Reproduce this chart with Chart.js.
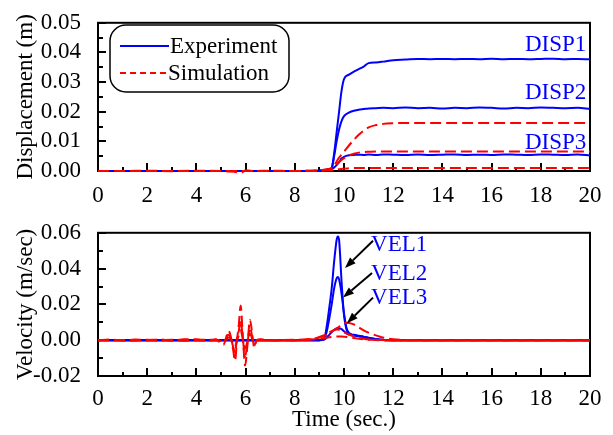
<!DOCTYPE html>
<html>
<head>
<meta charset="utf-8">
<script src="https://cdn.jsdelivr.net/npm/chart.js@4"></script>
<style>
  html, body { margin: 0; padding: 0; background: #fff; }
  #wrap { position: relative; width: 613px; height: 435px; }
  canvas { position: absolute; left: 0; }
</style>
</head>
<body>
<div id="wrap">
  <canvas id="dispChart" width="613" height="210" style="top:0"></canvas>
  <canvas id="velChart" width="613" height="225" style="top:210px"></canvas>
</div>
<script>
// --- displacement (m) vs time (sec.)
const dispTime = [
  0, 1, 2, 3, 4, 5, 5.5, 5.8, 6, 6.3,
  7, 8, 8.5, 9, 9.2, 9.4, 9.5, 9.6, 9.7, 9.8,
  9.9, 10, 10.2, 10.4, 10.6, 10.8, 11, 11.3, 11.6, 12,
  12.5, 13, 13.5, 14, 14.5, 15, 15.5, 16, 16.5, 17,
  17.5, 18, 18.5, 19, 19.5, 20
];
const disp1Exp = [
  0, 0, 0, 0, 0, 0, 0, 0, 0, 0,
  0, 0, 0, 0.0001, 0.0003, 0.0006, 0.001, 0.006, 0.013, 0.020,
  0.027, 0.031, 0.0325, 0.0335, 0.0344, 0.0352, 0.0364, 0.0366, 0.0369, 0.0374,
  0.0376, 0.0378, 0.0377, 0.0378, 0.0377, 0.0378, 0.0377, 0.0379, 0.0377, 0.0378,
  0.0377, 0.0378, 0.0379, 0.0377, 0.0378, 0.0377
];
const disp2Exp = [
  0, 0, 0, 0, 0, 0, 0, 0, 0, 0,
  0, 0, 0, 0.0001, 0.0002, 0.0005, 0.001, 0.005, 0.010, 0.014,
  0.0168, 0.0185, 0.0197, 0.0203, 0.0207, 0.0209, 0.0211, 0.0212, 0.0213, 0.0212,
  0.0214, 0.0212, 0.0213, 0.0211, 0.0213, 0.0212, 0.0214, 0.0213, 0.0211, 0.0213,
  0.0212, 0.0214, 0.0213, 0.0212, 0.0213, 0.0209
];
const disp3Exp = [
  0, 0, 0, 0, 0, 0, 0, 0, 0, 0,
  0, 0, 0, 0.0001, 0.0002, 0.0004, 0.0006, 0.0012, 0.002, 0.003,
  0.0042, 0.0048, 0.0053, 0.0054, 0.0055, 0.0054, 0.0056, 0.0054, 0.0056, 0.0055,
  0.0054, 0.0056, 0.0054, 0.0055, 0.0056, 0.0054, 0.0055, 0.0054, 0.0056, 0.0055,
  0.0054, 0.0056, 0.0055, 0.0054, 0.0056, 0.0052
];
const disp1Sim = [
  0, 0, 0.0001, -0.0001, 0.0001, 0, -0.0002, -0.0006, 0.0002, 0,
  0.0001, 0, 0.0001, 0.0002, 0.0004, 0.0007, 0.001, 0.0018, 0.0032, 0.0045,
  0.0055, 0.0065, 0.0086, 0.0105, 0.0122, 0.0136, 0.0147, 0.0155, 0.0159, 0.0161,
  0.0162, 0.0162, 0.0162, 0.0162, 0.0162, 0.0162, 0.0162, 0.0162, 0.0162, 0.0162,
  0.0162, 0.0162, 0.0162, 0.0162, 0.0162, 0.0162
];
const disp2Sim = [
  0, 0, 0, 0, 0, 0, -0.0001, -0.0003, 0.0001, 0,
  0, 0, 0.0001, 0.0002, 0.0004, 0.0007, 0.001, 0.0015, 0.0022, 0.003,
  0.0037, 0.0043, 0.0052, 0.0058, 0.0062, 0.0064, 0.0065, 0.0066, 0.0066, 0.0066,
  0.0066, 0.0066, 0.0066, 0.0066, 0.0066, 0.0066, 0.0066, 0.0066, 0.0066, 0.0066,
  0.0066, 0.0066, 0.0066, 0.0066, 0.0066, 0.0066
];
const disp3Sim = [
  0, 0, 0, 0, 0, 0, 0, 0, 0, 0,
  0, 0, 0, 0, 0.0001, 0.0002, 0.0003, 0.0004, 0.0005, 0.0006,
  0.0007, 0.0008, 0.0009, 0.001, 0.001, 0.001, 0.001, 0.001, 0.001, 0.001,
  0.001, 0.001, 0.001, 0.001, 0.001, 0.001, 0.001, 0.001, 0.001, 0.001,
  0.001, 0.001, 0.001, 0.001, 0.001, 0.001
];

// --- velocity (m/sec) vs time (sec.)
const velTime = [
  0, 0.5, 1, 1.5, 2, 2.5, 3, 3.5, 4, 4.5,
  4.8, 5.0, 5.1, 5.2, 5.3, 5.4, 5.5, 5.57, 5.65, 5.72,
  5.8, 5.88, 5.98, 6.08, 6.18, 6.28, 6.35, 6.45, 6.6, 6.8,
  7, 8, 8.5, 8.8, 9, 9.2, 9.3, 9.4, 9.5, 9.6,
  9.7, 9.75, 9.8, 9.9, 10, 10.1, 10.2, 10.4, 10.6, 10.8,
  11, 11.5, 12, 13, 14, 15, 16, 17, 18, 19,
  20
];
const vel1Exp = [
  0, 0, 0, 0, 0, 0, 0, 0, 0, 0,
  0, 0, 0, 0, 0, 0, 0, 0, 0, 0,
  0, 0, 0, 0, 0, 0, 0, 0, 0, 0,
  0, 0, 0, 0, 0, 0.001, 0.008, 0.018, 0.029, 0.044,
  0.056, 0.058, 0.056, 0.033, 0.014, 0.006, 0.0035, 0.0028, 0.0023, 0.0018,
  0.0013, 0.0003, 0, 0, 0, 0, 0, 0, 0, 0,
  0
];
const vel2Exp = [
  0, 0, 0, 0, 0, 0, 0, 0, 0, 0,
  0, 0, 0, 0, 0, 0, 0, 0, 0, 0,
  0, 0, 0, 0, 0, 0, 0, 0, 0, 0,
  0, 0, 0, 0, 0, 0.0008, 0.005, 0.012, 0.02, 0.029,
  0.0345, 0.0353, 0.034, 0.026, 0.015, 0.007, 0.004, 0.003, 0.0025, 0.002,
  0.0014, 0.0003, 0, 0, 0, 0, 0, 0, 0, 0,
  0
];
const vel3Exp = [
  0, 0, 0, 0, 0, 0, 0, 0, 0, 0,
  0, 0, 0, 0, 0, 0, 0, 0, 0, 0,
  0, 0, 0, 0, 0, 0, 0, 0, 0, 0,
  0, 0, 0, 0, 0, 0.0004, 0.0015, 0.003, 0.0045, 0.0058,
  0.0066, 0.0068, 0.0067, 0.0062, 0.005, 0.0038, 0.0032, 0.0027, 0.0022, 0.0016,
  0.0011, 0.0002, 0, 0, 0, 0, 0, 0, 0, 0,
  0
];
const vel1Sim = [
  0, 0.0003, -0.0002, 0.0004, 0, 0.0005, -0.0003, 0.0006, 0.0004, -0.0004,
  0.0005, -0.002, -0.0025, 0.001, 0.0053, 0.002, -0.006, -0.0115, 0, 0.008,
  0.0194, 0.004, -0.0142, -0.002, 0.0114, 0.002, -0.004, 0, 0.0006, 0.0002,
  0, 0, 0.0003, 0.0008, 0.0015, 0.0025, 0.003, 0.0038, 0.0047, 0.0057,
  0.0066, 0.007, 0.0075, 0.0085, 0.0093, 0.0097, 0.0096, 0.0088, 0.0072, 0.0055,
  0.0042, 0.0018, 0.0005, 0, 0, 0, 0, 0, 0, 0,
  0
];
const vel2Sim = [
  0, 0.0002, 0, -0.0002, 0.0003, 0, 0.0002, -0.0003, 0.0004, 0.0002,
  0.0003, -0.001, -0.0015, 0.0008, 0.003, 0.001, -0.004, -0.007, 0.001, 0.005,
  0.011, 0.002, -0.009, -0.001, 0.007, 0.001, -0.003, 0, 0.0003, 0,
  0, 0.0002, 0.0005, 0.001, 0.0018, 0.0028, 0.0035, 0.0043, 0.005, 0.0056,
  0.006, 0.006, 0.0058, 0.0052, 0.0045, 0.0038, 0.0032, 0.0022, 0.0014, 0.0008,
  0.0004, 0.0001, 0, 0, 0, 0, 0, 0, 0, 0,
  0
];
const vel3Sim = [
  0, 0, 0, 0, 0, 0, 0, 0, 0, 0,
  0, -0.0005, -0.0008, 0.0003, 0.0015, 0.0005, -0.002, -0.0035, 0, 0.0025,
  0.0055, 0.001, -0.0045, -0.0005, 0.0035, 0.0005, -0.0015, 0, 0, 0,
  0, 0, 0.0002, 0.0005, 0.0008, 0.0012, 0.0014, 0.0016, 0.0018, 0.002,
  0.0021, 0.0021, 0.0021, 0.002, 0.0019, 0.0018, 0.0016, 0.0012, 0.0008, 0.0005,
  0.0003, 0, 0, 0, 0, 0, 0, 0, 0, 0,
  0
];

const FONT = "'Liberation Serif', 'Times New Roman', serif";
const BLUE = '#0000ff';
const RED = '#ff0000';

function pts(t, v) {
  return t.map((x, i) => ({ x: x, y: v[i] }));
}
function expSet(label, t, v) {
  return { label: label, data: pts(t, v), borderColor: BLUE, borderWidth: 2, clip: 3,
    pointRadius: 0, cubicInterpolationMode: 'monotone', fill: false };
}
function simSet(label, t, v) {
  return { label: label, data: pts(t, v), borderColor: RED, borderWidth: 2, clip: 3,
    borderDash: [11, 5], pointRadius: 0, cubicInterpolationMode: 'monotone', fill: false };
}

// inward ticks + closed frame, drawn under the curves
const frameTicks = {
  id: 'frameTicks',
  beforeDatasetsDraw(chart) {
    const ctx = chart.ctx, a = chart.chartArea;
    const x = chart.scales.x, y = chart.scales.y;
    ctx.save();
    ctx.strokeStyle = '#000';
    ctx.lineWidth = 2;
    ctx.beginPath();
    for (let t = 0; t <= 20; t++) {
      const px = Math.round(x.getPixelForValue(t));
      const len = t % 2 === 0 ? 8 : 4;
      ctx.moveTo(px, a.bottom);
      ctx.lineTo(px, a.bottom - len);
    }
    const yv = y.ticks.map(k => k.value);
    for (let i = 0; i < yv.length; i++) {
      const py = Math.round(y.getPixelForValue(yv[i]));
      ctx.moveTo(a.left, py);
      ctx.lineTo(a.left + 8, py);
      if (i < yv.length - 1) {
        const pm = Math.round(y.getPixelForValue((yv[i] + yv[i + 1]) / 2));
        ctx.moveTo(a.left, pm);
        ctx.lineTo(a.left + 5, pm);
      }
    }
    ctx.stroke();
    ctx.strokeRect(a.left, a.top, a.right - a.left, a.bottom - a.top);
    ctx.restore();
  }
};

const dispNotes = {
  id: 'dispNotes',
  afterDraw(chart) {
    const ctx = chart.ctx, x = chart.scales.x, y = chart.scales.y;
    ctx.save();
    // curve names
    ctx.font = '23px ' + FONT;
    ctx.fillStyle = BLUE;
    ctx.textAlign = 'right';
    ctx.textBaseline = 'middle';
    [['DISP1', 0.0424], ['DISP2', 0.0262], ['DISP3', 0.0096]].forEach(n => {
      ctx.fillText(n[0], x.getPixelForValue(19.85), y.getPixelForValue(n[1]));
    });
    // legend box
    ctx.strokeStyle = '#000';
    ctx.lineWidth = 1.5;
    ctx.beginPath();
    ctx.roundRect(110, 25, 179, 67, 16);
    ctx.stroke();
    ctx.lineWidth = 2;
    ctx.strokeStyle = BLUE;
    ctx.beginPath();
    ctx.moveTo(120, 46); ctx.lineTo(169, 46);
    ctx.stroke();
    ctx.strokeStyle = RED;
    ctx.setLineDash([6, 4]);
    ctx.beginPath();
    ctx.moveTo(120, 73); ctx.lineTo(167, 73);
    ctx.stroke();
    ctx.setLineDash([]);
    ctx.fillStyle = '#000';
    ctx.textAlign = 'left';
    ctx.fillText('Experiment', 170, 47);
    ctx.fillText('Simulation', 168, 74);
    ctx.restore();
  }
};

const velNotes = {
  id: 'velNotes',
  afterDraw(chart) {
    const ctx = chart.ctx, x = chart.scales.x, y = chart.scales.y;
    const notes = [
      { text: 'VEL1', tx: 11.1, ty: 0.053, from: [11.18, 0.0556], to: [10.04, 0.0403] },
      { text: 'VEL2', tx: 11.1, ty: 0.0371, from: [11.14, 0.0376], to: [9.96, 0.0238] },
      { text: 'VEL3', tx: 11.1, ty: 0.0238, from: [11.18, 0.0238], to: [10.12, 0.0095] }
    ];
    ctx.save();
    ctx.font = '23px ' + FONT;
    ctx.textAlign = 'left';
    ctx.textBaseline = 'middle';
    notes.forEach(n => {
      ctx.fillStyle = BLUE;
      ctx.fillText(n.text, x.getPixelForValue(n.tx), y.getPixelForValue(n.ty));
      const x1 = x.getPixelForValue(n.from[0]), y1 = y.getPixelForValue(n.from[1]);
      const x2 = x.getPixelForValue(n.to[0]), y2 = y.getPixelForValue(n.to[1]);
      const ang = Math.atan2(y2 - y1, x2 - x1);
      const hl = 11, hw = 4;
      const bx = x2 - hl * Math.cos(ang), by = y2 - hl * Math.sin(ang);
      ctx.strokeStyle = '#000';
      ctx.fillStyle = '#000';
      ctx.lineWidth = 2;
      ctx.beginPath();
      ctx.moveTo(x1, y1); ctx.lineTo(bx, by);
      ctx.stroke();
      ctx.beginPath();
      ctx.moveTo(x2, y2);
      ctx.lineTo(bx + hw * Math.sin(ang), by - hw * Math.cos(ang));
      ctx.lineTo(bx - hw * Math.sin(ang), by + hw * Math.cos(ang));
      ctx.closePath();
      ctx.fill();
    });
    ctx.restore();
  }
};

function axes(yMin, yMax, yStep, yTitle, xHeight, xPad, xTitle) {
  return {
    x: {
      type: 'linear', min: 0, max: 20,
      grid: { display: false }, border: { display: false },
      ticks: { stepSize: 2, autoSkip: false, maxRotation: 0, padding: xPad, color: '#000',
        font: { family: FONT, size: 23 } },
      title: { display: !!xTitle, text: xTitle || '', color: '#000',
        font: { family: FONT, size: 23 }, padding: { top: 0, bottom: 1 } },
      afterFit(s) { s.height = xHeight; }
    },
    y: {
      min: yMin, max: yMax,
      grid: { display: false }, border: { display: false },
      ticks: { stepSize: yStep, autoSkip: false, padding: 9, color: '#000',
        font: { family: FONT, size: 23 },
        callback: v => Number(v).toFixed(2) },
      title: { display: true, text: yTitle, color: '#000',
        font: { family: FONT, size: 23 }, padding: { top: 12, bottom: 0 } },
      afterFit(s) { s.width = 98; }
    }
  };
}

const common = {
  responsive: false,
  animation: false,
  devicePixelRatio: 1,
  plugins: { legend: { display: false }, tooltip: { enabled: false } }
};

new Chart(document.getElementById('dispChart').getContext('2d'), {
  type: 'line',
  data: {
    datasets: [
      simSet('Sim 1', dispTime, disp1Sim),
      simSet('Sim 2', dispTime, disp2Sim),
      simSet('Sim 3', dispTime, disp3Sim),
      expSet('DISP1', dispTime, disp1Exp),
      expSet('DISP2', dispTime, disp2Exp),
      expSet('DISP3', dispTime, disp3Exp)
    ]
  },
  options: Object.assign({}, common, {
    layout: { padding: { top: 20, right: 23, left: 0, bottom: 0 } },
    scales: axes(0, 0.05, 0.01, 'Displacement (m)', 39, 3, null)
  }),
  plugins: [frameTicks, dispNotes]
});

new Chart(document.getElementById('velChart').getContext('2d'), {
  type: 'line',
  data: {
    datasets: [
      simSet('Sim 1', velTime, vel1Sim),
      simSet('Sim 2', velTime, vel2Sim),
      simSet('Sim 3', velTime, vel3Sim),
      expSet('VEL1', velTime, vel1Exp),
      expSet('VEL2', velTime, vel2Exp),
      expSet('VEL3', velTime, vel3Exp)
    ]
  },
  options: Object.assign({}, common, {
    layout: { padding: { top: 15, right: 23, left: 0, bottom: 0 } },
    scales: axes(-0.02, 0.06, 0.02, 'Velocity (m/sec)', 59, 1, 'Time (sec.)')
  }),
  plugins: [frameTicks, velNotes]
});
</script>
</body>
</html>
